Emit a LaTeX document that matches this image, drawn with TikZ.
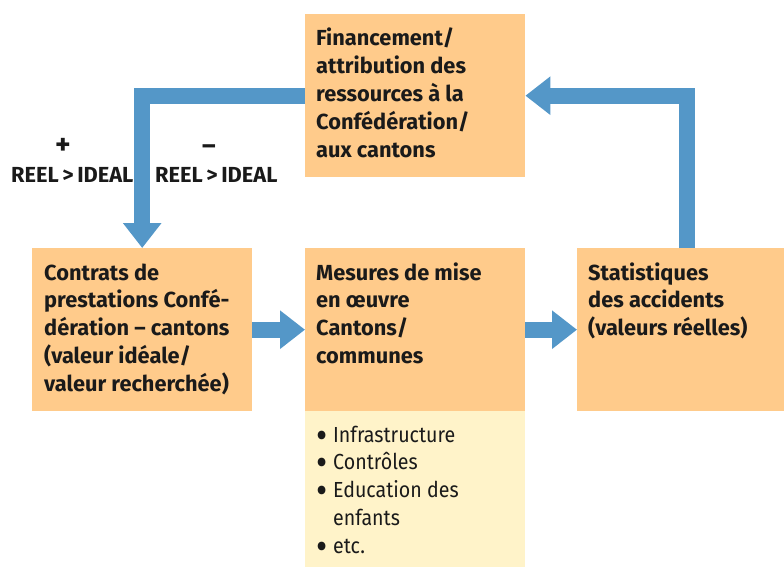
\documentclass[tikz,border=0pt]{standalone}
\usepackage{fontspec}
\setmainfont{Fira Sans}
\newfontfamily\listfont[FakeStretch=0.9]{Fira Sans}
\usetikzlibrary{arrows.meta}
\definecolor{boxor}{RGB}{255,203,139}
\definecolor{boxye}{RGB}{255,243,201}
\definecolor{arrbl}{RGB}{84,151,200}
\definecolor{txt}{RGB}{26,26,26}
\newcommand{\lbul}{\makebox[17pt][l]{\smash{\raisebox{-6pt}{\scalebox{1.75}{•}}}}}
\newcommand{\lnob}{\makebox[17pt][l]{}}
\tikzset{
  box/.style={fill=boxor, inner sep=0pt, anchor=north west},
  lbox/.style={fill=boxye, inner sep=0pt, anchor=north west},
  btxt/.style={font=\fontsize{21.8}{27.8}\selectfont\bfseries, text=txt, inner sep=0pt, anchor=base west, align=left},
  ltxt/.style={font=\fontsize{21.8}{27.8}\selectfont\listfont, text=txt, inner sep=0pt, anchor=base west, align=left},
  flow/.style={draw=arrbl, line width=16pt, line join=miter, -{Triangle[length=25pt,width=37pt]}},
}
\begin{document}
\begin{tikzpicture}[x=1pt,y=-1pt]
\useasboundingbox (0,0) rectangle (784,567);
% boxes
\node[box, minimum width=220pt, minimum height=163pt] (fin) at (305,14) {};
\node[box, minimum width=220pt, minimum height=163pt] (con) at (32,248) {};
\node[box, minimum width=220pt, minimum height=163pt] (mes) at (305,248) {};
\node[lbox, minimum width=220pt, minimum height=156pt] (lst) at (305,411) {};
\node[box, minimum width=207pt, minimum height=163pt] (stat) at (577,248) {};
% texts (base anchor = baseline of last line)
\node[btxt] (fint) at (316,157.2) {Financement/\\attribution des\\ressources à la\\Confédération/\\aux cantons};
\node[btxt] (cont) at (44,391.2) {Contrats de\\prestations Confé-\\dération – cantons\\(valeur idéale/\\valeur recherchée)};
\node[btxt] (mest) at (316,363.4) {Mesures de mise\\en œuvre\\Cantons/\\communes};
\node[btxt] (statt) at (588,335.6) {Statistiques\\des accidents\\(valeurs réelles)};
\node[ltxt] (lstt) at (316,553.2) {\lbul Infrastructure\\\lbul Contrôles\\\lbul Education des\\\lnob enfants\\\lbul etc.};
% labels
\node[btxt, anchor=base] (plus) at (63,154) {\scalebox{1.35}{+}};
\node[btxt] (lab1) at (11,182) {REEL\,>\,IDEAL};
\node[btxt, anchor=base] (minus) at (209,154) {\scalebox{1.2}{–}};
\node[btxt] (lab2) at (155,182) {REEL\,>\,IDEAL};
% arrows
\draw[flow] (fin.west) -| (con.north);
\draw[flow] ([xshift=6pt]stat.north) |- (fin.east);
\draw[flow] (con.east) -- (mes.west);
\draw[flow] (mes.east) -- (stat.west);
\end{tikzpicture}
\end{document}
